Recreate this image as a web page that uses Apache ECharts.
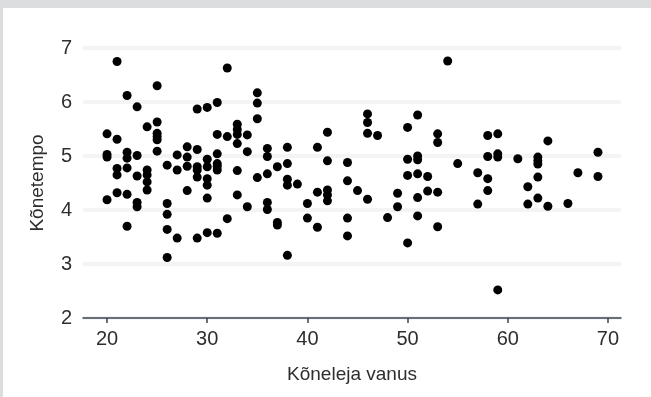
<!DOCTYPE html>
<html>
<head>
<meta charset="utf-8">
<script src="https://cdn.jsdelivr.net/npm/echarts@6/dist/echarts.min.js"></script>
<style>
  html, body { margin: 0; padding: 0; background: #dcdddf; }
  #chart { position: absolute; left: 3px; top: 8px; width: 648px; height: 389px; background: #ffffff; }
</style>
</head>
<body>
<div id="chart"></div>
<script>
// Speaker age (years) and speech rate, one entry per recording
const age = [
  20, 20, 20, 20,
  21, 21, 21, 21, 21,
  22, 22, 22, 22, 22, 22,
  23, 23, 23, 23, 23,
  24, 24, 24, 24, 24,
  25, 25, 25, 25, 25, 25,
  26, 26, 26, 26, 26,
  27, 27, 27,
  28, 28, 28, 28,
  29, 29, 29, 29, 29, 29,
  30, 30, 30, 30, 30, 30, 30,
  31, 31, 31, 31, 31, 31, 31,
  32, 32, 32,
  33, 33, 33, 33, 33, 33,
  34, 34, 34,
  35, 35, 35, 35,
  36, 36, 36, 36, 36,
  37, 37, 37,
  38, 38, 38, 38, 38,
  39,
  40, 40,
  41, 41, 41,
  42, 42, 42, 42, 42,
  44, 44, 44, 44,
  45,
  46, 46, 46, 46,
  47,
  48,
  49, 49,
  50, 50, 50, 50,
  51, 51, 51, 51, 51, 51,
  52, 52,
  53, 53, 53, 53,
  54,
  55,
  57, 57,
  58, 58, 58, 58,
  59, 59, 59, 59,
  61,
  62, 62,
  63, 63, 63, 63, 63,
  64, 64,
  66,
  67,
  69, 69
];
const tempo = [
  5.41, 5.03, 4.98, 4.19,
  6.75, 5.31, 4.77, 4.65, 4.32,
  6.12, 5.07, 4.96, 4.78, 4.29, 3.70,
  5.91, 5.01, 4.63, 4.14, 4.06,
  5.54, 4.74, 4.65, 4.52, 4.37,
  6.30, 5.63, 5.42, 5.36, 5.30, 5.09,
  4.83, 4.12, 3.92, 3.64, 3.12,
  5.02, 4.74, 3.48,
  5.17, 4.98, 4.81, 4.36,
  5.87, 5.12, 4.80, 4.74, 4.61, 3.48,
  5.90, 4.94, 4.80, 4.58, 4.46, 4.22, 3.58,
  5.99, 5.40, 5.04, 4.86, 4.81, 4.74, 3.57,
  6.63, 5.36, 3.84,
  5.59, 5.49, 5.40, 5.23, 4.73, 4.28,
  5.39, 5.08, 4.06,
  6.17, 5.98, 5.69, 4.60,
  5.14, 4.99, 4.67, 4.14, 4.01,
  4.80, 3.77, 3.72,
  5.16, 4.86, 4.57, 4.46, 3.16,
  4.48,
  4.12, 3.85,
  5.16, 4.33, 3.68,
  5.44, 4.91, 4.37, 4.28, 4.17,
  4.88, 4.54, 3.85, 3.52,
  4.36,
  5.78, 5.62, 5.42, 4.20,
  5.38,
  3.86,
  4.31, 4.06,
  5.53, 4.94, 4.64, 3.39,
  5.76, 5.00, 4.93, 4.67, 4.23, 3.89,
  4.62, 4.35,
  5.41, 5.25, 4.33, 3.69,
  6.76,
  4.86,
  4.69, 4.11,
  5.38, 4.99, 4.58, 4.36,
  5.41, 5.04, 4.98, 2.52,
  4.95,
  4.43, 4.11,
  4.98, 4.91, 4.85, 4.61, 4.22,
  5.28, 4.07,
  4.12,
  4.69,
  5.07, 4.62
];
const xTicks = [20, 30, 40, 50, 60, 70];
const xName = 'Kõneleja vanus';
const yName = 'Kõnetempo';

const points = age.map((a, i) => [a, tempo[i]]);
const font = "'Liberation Sans', Arial, sans-serif";
const textColor = '#2e2e2e';

const chart = echarts.init(document.getElementById('chart'), null, { renderer: 'canvas' });
chart.setOption({
  animation: false,
  backgroundColor: '#ffffff',
  grid: { left: 80, right: 30, top: 40, bottom: 79, containLabel: false },
  xAxis: {
    type: 'value',
    min: 17.6,
    max: 71.3,
    name: xName,
    nameLocation: 'middle',
    nameGap: 47,
    nameTextStyle: { color: textColor, fontSize: 19, fontFamily: font },
    axisLine: { show: true, lineStyle: { color: '#3b4350', width: 1.5 } },
    axisTick: { show: true, length: 5, customValues: xTicks, lineStyle: { color: '#3b4350', width: 1.5 } },
    axisLabel: { customValues: xTicks, margin: 11, color: textColor, fontSize: 20, fontFamily: font },
    splitLine: { show: false }
  },
  yAxis: {
    type: 'value',
    min: 2,
    max: 7,
    interval: 1,
    name: yName,
    nameLocation: 'middle',
    nameGap: 36,
    nameRotate: 90,
    nameTextStyle: { color: textColor, fontSize: 19, fontFamily: font },
    axisLine: { show: false },
    axisTick: { show: false },
    axisLabel: { margin: 11, color: textColor, fontSize: 20, fontFamily: font },
    splitLine: { show: true, lineStyle: { color: '#f3f4f6', width: 4 } }
  },
  series: [{
    type: 'scatter',
    data: points,
    symbol: 'circle',
    symbolSize: 9,
    itemStyle: { color: '#000000', opacity: 1 }
  }]
});
</script>
</body>
</html>
